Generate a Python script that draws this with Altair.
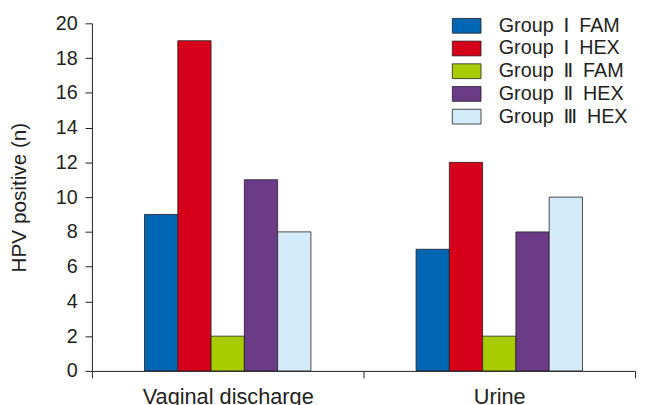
import altair as alt
import pandas as pd

samples = ["Vaginal discharge", "Urine"]
groups = ["Group\u2002Ⅰ\u2002FAM", "Group\u2002Ⅰ\u2002HEX", "Group\u2002Ⅱ\u2002FAM",
          "Group\u2002Ⅱ\u2002HEX", "Group\u2002Ⅲ\u2002HEX"]
vaginal = [9, 19, 2, 11, 8]
urine = [7, 12, 2, 8, 10]
colors = ["#0066b3", "#d7001a", "#a8cc00", "#6c3b87", "#d3ebf8"]

rows = []
for g, v in zip(groups, vaginal):
    rows.append({"sample": samples[0], "group": g, "value": v})
for g, v in zip(groups, urine):
    rows.append({"sample": samples[1], "group": g, "value": v})
df = pd.DataFrame(rows)

offset_domain = ["_padL"] + groups + ["_padR"]

FONT = "Liberation Sans, DejaVu Sans"
TXT = "#231f20"

chart = alt.Chart(df).mark_bar(stroke="#231f20", strokeWidth=0.8).encode(
    x=alt.X("sample:N", sort=samples, title=None,
            scale=alt.Scale(paddingInner=0, paddingOuter=0),
            axis=alt.Axis(tickBand="extent", labelAngle=0, labelFontSize=22,
                          labelFont=FONT, labelColor=TXT, labelPadding=9,
                          domainColor=TXT, tickColor=TXT, tickSize=7,
                          ticks=True, domainWidth=1)),
    xOffset=alt.XOffset("group:N",
                        scale=alt.Scale(domain=offset_domain, paddingInner=0, paddingOuter=0.58)),
    y=alt.Y("value:Q", title="HPV positive (n)",
            scale=alt.Scale(domain=[0, 20], nice=False),
            axis=alt.Axis(values=list(range(0, 21, 2)), grid=False,
                          labelFontSize=20, labelFont=FONT, labelColor=TXT,
                          titleFontSize=21, titleFont=FONT, titleColor=TXT,
                          titleFontWeight="normal", titlePadding=26,
                          domainColor=TXT, tickColor=TXT, tickSize=7,
                          labelPadding=8)),
    color=alt.Color("group:N", sort=groups,
                    scale=alt.Scale(domain=groups, range=colors),
                    legend=alt.Legend(title=None, orient="none", legendX=368, legendY=-9,
                                      symbolType="M-1.32,-0.68H1.32V0.68H-1.32Z", symbolSize=485,
                                      symbolStrokeColor="#231f20", symbolStrokeWidth=0.8,
                                      labelFontSize=20, labelFont=FONT, labelColor=TXT,
                                      rowPadding=1, labelOffset=21)),
).properties(
    width=550, height=352,
    autosize=alt.AutoSizeParams(type="none"),
    padding={"left": 85, "top": 13, "right": 3, "bottom": 32},
).configure_view(stroke=None)

chart.save("out.html", embed_options={"renderer": "svg", "actions": False})
